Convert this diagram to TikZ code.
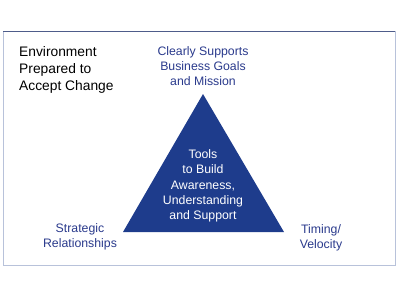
\documentclass[tikz,border=0pt]{standalone}
\usepackage{fontspec}
\setmainfont{Liberation Sans}
\usetikzlibrary{positioning}

\definecolor{tridark}{HTML}{1E3C8C}
\definecolor{labelblue}{HTML}{2A3A8C}
\definecolor{frametop}{HTML}{4E5C8A}
\definecolor{frameside}{HTML}{B8C2DA}

\begin{document}
\begin{tikzpicture}[
    x=1pt, y=-1pt,
    corner/.style={align=center, text=labelblue, font=\fontsize{12.3}{15}\selectfont},
    inner/.style={align=center, text=white, font=\fontsize{12.3}{15.2}\selectfont},
    envlabel/.style={align=left, anchor=north west, text=black, font=\fontsize{13.8}{17.2}\selectfont, inner sep=0pt}
  ]
    \useasboundingbox (0,0) rectangle (400,300);

    % frame
    \draw[frameside, line width=1pt] (3,31) -- (3,265) -- (395,265) -- (395,31);
    \draw[frametop, line width=1pt] (3,31) -- (395,31);

    % triangle
    \fill[tridark] (203,94) -- (284,232) -- (123,232) -- cycle;

    \node[inner] (tools) at (203,186) {Tools\\to Build\\Awareness,\\Understanding\\and Support};

    \node[corner] (goals)    at (203,66)  {Clearly Supports\\Business Goals\\and Mission};
    \node[corner] (strategy) at (80,237)  {Strategic\\Relationships};
    \node[corner] (timing)   at (321,238) {Timing/\\Velocity};

    \node[envlabel] (env) at (19,46) {Environment\\Prepared to\\Accept Change};
  \end{tikzpicture}
\end{document}
